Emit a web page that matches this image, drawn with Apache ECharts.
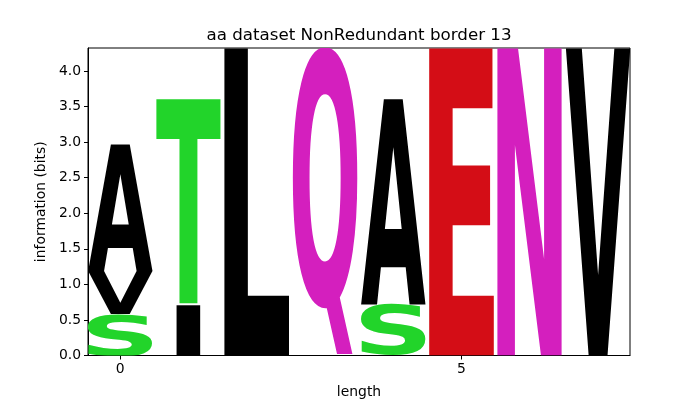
<!DOCTYPE html>
<html><head><meta charset="utf-8">
<script src="https://cdn.jsdelivr.net/npm/echarts@6/dist/echarts.min.js"></script>
<style>html,body{margin:0;padding:0;background:#fff}#main{width:700px;height:400px}</style>
</head><body><div id="main"></div>
<script>
// sequence logo data (information in bits), stacked bottom -> top per position
const positions = [0, 0, 0, 1, 1, 2, 3, 4, 4, 5, 6, 7];
const letters   = ['S', 'V', 'A', 'I', 'T', 'L', 'Q', 'S', 'A', 'E', 'N', 'V'];
const heights   = [0.59, 0.60, 1.77, 0.716, 2.891, 4.322, 4.322, 0.716, 2.891, 4.322, 4.322, 4.322];
const xTickValues = [0, 5];
const yTickValues = [0, 0.5, 1, 1.5, 2, 2.5, 3, 3.5, 4];
const letterColors = {S:'#22d42a', T:'#22d42a', A:'#000000', V:'#000000', I:'#000000', L:'#000000',
                      Q:'#d41fbe', N:'#d41fbe', E:'#d40d16'};
const letterWidth = {I: 0.35};
const DEFAULT_WIDTH = 0.95;

// build stacked rows [pos, floor, ceiling, index]
const floors = {};
const rows = positions.map((p, i) => {
  const f = floors[p] || 0;
  floors[p] = f + heights[i];
  return [p, f, f + heights[i], i];
});

const FONT = 'bold 200px "DejaVu Sans"';
const mctx = document.createElement('canvas').getContext('2d');
mctx.font = FONT; mctx.textBaseline = 'middle'; mctx.textAlign = 'left';
const mcache = {};
function metrics(ch) {
  if (!mcache[ch]) {
    const m = mctx.measureText(ch);
    mcache[ch] = {l: -m.actualBoundingBoxLeft, r: m.actualBoundingBoxRight,
                  t: -m.actualBoundingBoxAscent, b: m.actualBoundingBoxDescent};
  }
  return mcache[ch];
}

const chart = echarts.init(document.getElementById('main'), null, {renderer: 'canvas'});
const axisFont = {fontFamily: 'DejaVu Sans', fontSize: 13.9, color: '#000'};
chart.setOption({
  animation: false,
  title: {text: 'aa dataset NonRedundant border 13', left: 359, top: 27, textAlign: 'center', padding: 0,
          textStyle: {fontFamily: 'DejaVu Sans', fontSize: 16.7, fontWeight: 'normal', color: '#000'}},
  grid: {left: 88, right: 70, top: 48, bottom: 44.5, containLabel: false, outerBoundsMode: 'none',
         show: true, borderColor: '#000', borderWidth: 1, backgroundColor: 'transparent'},
  xAxis: {
    type: 'value', min: -0.47, max: 7.47,
    name: 'length', nameLocation: 'middle', nameGap: 30,
    nameTextStyle: axisFont,
    axisLine: {show: true, onZero: false, lineStyle: {color: '#000', width: 1}},
    axisTick: {show: true, length: 4, lineStyle: {color: '#000'}, customValues: xTickValues},
    axisLabel: {...axisFont, margin: 7, customValues: xTickValues},
    splitLine: {show: false}
  },
  yAxis: {
    type: 'value', min: 0, max: 4.3219,
    name: 'information (bits)', nameLocation: 'middle', nameGap: 34,
    nameTextStyle: axisFont,
    axisLine: {show: true, onZero: false, lineStyle: {color: '#000', width: 1}},
    axisTick: {show: true, length: 4, lineStyle: {color: '#000'}, customValues: yTickValues},
    axisLabel: {...axisFont, margin: 7, customValues: yTickValues, formatter: v => v.toFixed(1)},
    splitLine: {show: false}
  },
  series: [{
    type: 'custom', clip: true, silent: true,
    encode: {x: 0, y: [1, 2]},
    data: rows,
    renderItem: function (params, api) {
      const pos = api.value(0), y0 = api.value(1), y1 = api.value(2), idx = api.value(3);
      const ch = letters[idx];
      const w = letterWidth[ch] || DEFAULT_WIDTH;
      const p0 = api.coord([pos - w / 2, y1]);
      const p1 = api.coord([pos + w / 2, y0]);
      const m = metrics(ch);
      const sx = (p1[0] - p0[0]) / (m.r - m.l);
      const sy = (p1[1] - p0[1]) / (m.b - m.t);
      return {
        type: 'text',
        x: p0[0] - m.l * sx, y: p0[1] - m.t * sy,
        scaleX: sx, scaleY: sy,
        style: {text: ch, x: 0, y: 0, font: FONT, fill: letterColors[ch],
                align: 'left', verticalAlign: 'middle', textAlign: 'left', textVerticalAlign: 'middle'}
      };
    }
  }]
});
</script></body></html>
